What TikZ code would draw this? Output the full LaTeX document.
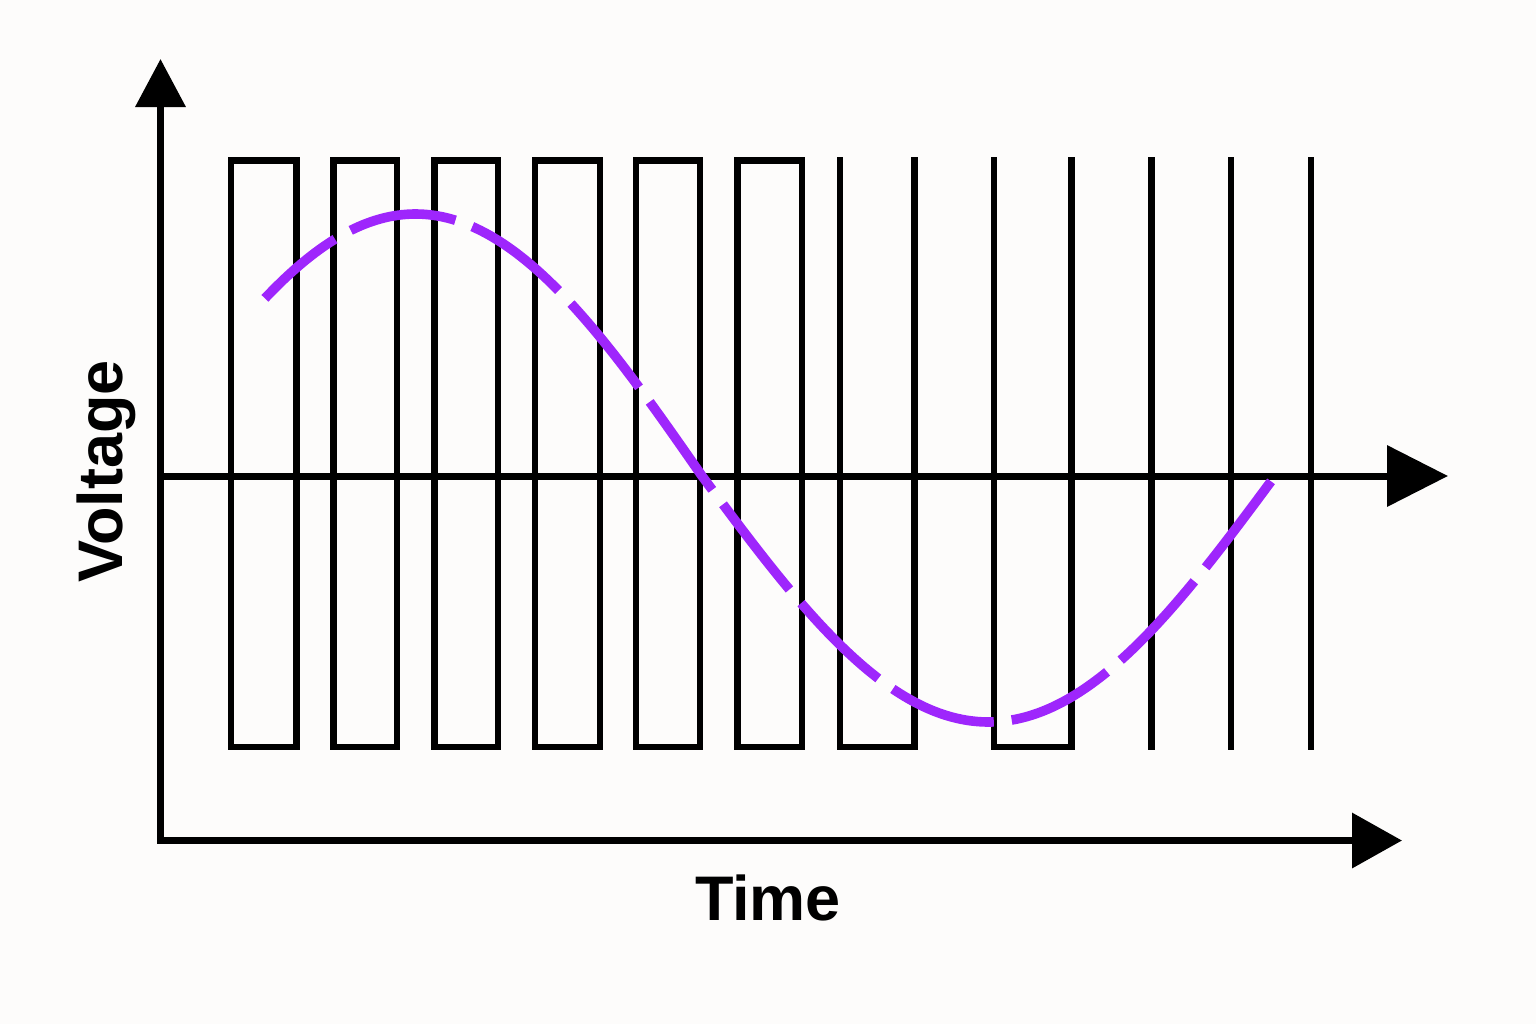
\documentclass[tikz,border=0pt]{standalone}
\usepackage{fontspec}
\setmainfont{Liberation Sans}
\usetikzlibrary{arrows.meta}
\definecolor{bgc}{RGB}{253,252,251}
\definecolor{wave}{RGB}{158,38,252}
\begin{document}
\begin{tikzpicture}[x=0.5pt,y=-0.5pt,
  axisline/.style={line width=3.5pt,black,line join=miter},
  pulse/.style={line width=3.3pt,black,line join=miter},
  sinewave/.style={line width=4.8pt,wave,dash pattern=on 54pt off 9pt,dash phase=8pt},
  lbl/.style={font=\bfseries\fontsize{31.5}{38}\selectfont,inner sep=0pt}]
\fill[bgc] (0,0) rectangle (1536,1024);
\useasboundingbox (0,0) rectangle (1536,1024);
% axes
\coordinate (ytop) at (160.5,59);
\coordinate (O) at (160.5,840.5);
\coordinate (xend) at (1402,840.5);
\coordinate (m0) at (160.5,476);
\coordinate (mend) at (1448,476);
\draw[axisline,{Triangle[length=24pt,width=24.5pt]}-{Triangle[length=25pt,width=27pt]}] (ytop) -- (O) -- (xend);
\draw[axisline,-{Triangle[length=30.5pt,width=30pt]}] (m0) -- (mend);
% closed pulses
\foreach \a/\b in {231/296.5,333.5/397,434.5/498,535/600,636/700,737.5/802}{
  \draw[pulse] (\a,160.5) rectangle (\b,747);
}
% open-top pulses
\foreach \a/\b in {840/914.5,994/1071.5}{
  \draw[pulse] (\a,157) -- (\a,747) -- (\b,747) -- (\b,157);
}
% single lines
\foreach \a in {1151.5,1231,1311}{
  \draw[pulse] (\a,157) -- (\a,750);
}
% sine wave
\draw[sinewave] plot[domain=-137.3:180.3,samples=200,smooth,variable=\t]
  ({702+3.1833*\t},{476 + 254*sin(\t) - 8*abs(sin(\t))});
% labels
\node[lbl,anchor=base] (time) at (768,920) {Time};
\node[lbl,anchor=base,rotate=90] (volt) at (122,471.5) {Voltage};
\end{tikzpicture}
\end{document}
